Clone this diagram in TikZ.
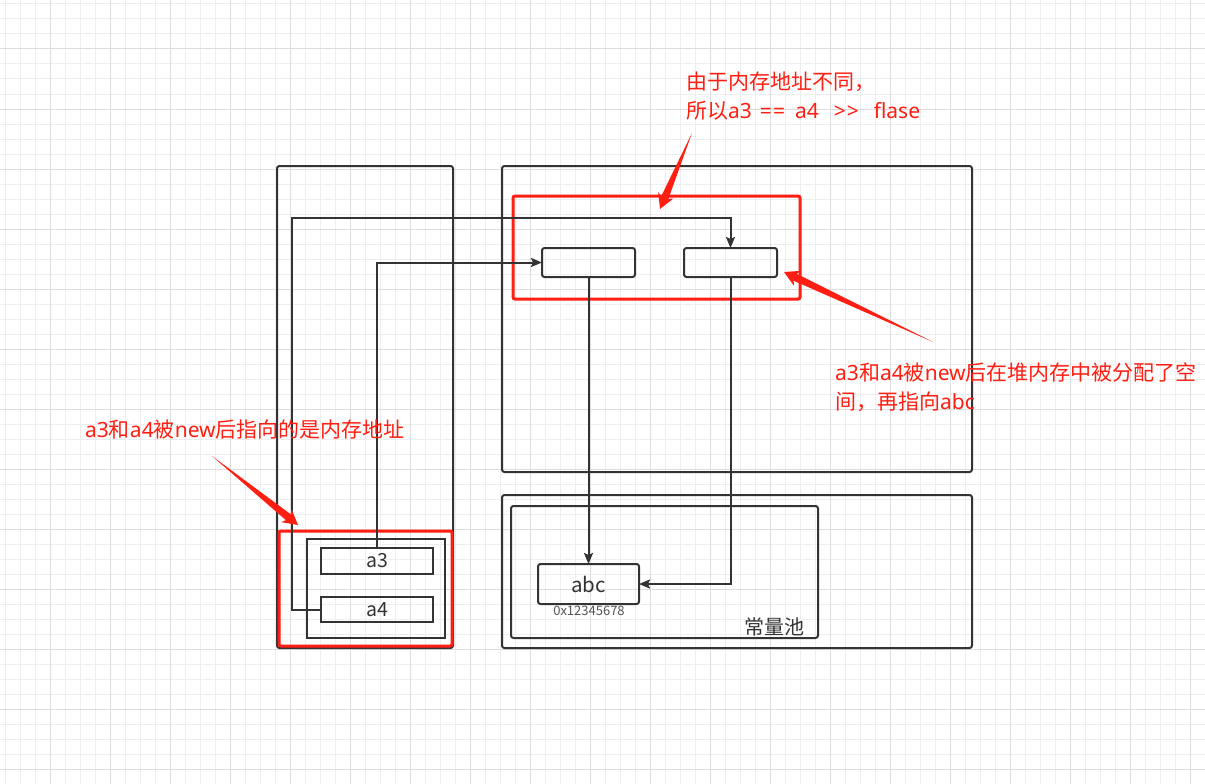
\documentclass[tikz,border=0pt]{standalone}
\usepackage{fontspec}
\newfontfamily\cjk{Noto Sans CJK SC}
\newfontfamily\lat{Noto Sans}
\usetikzlibrary{arrows.meta,calc}
\definecolor{ink}{HTML}{333333}
\definecolor{redc}{HTML}{FF1E12}
\definecolor{gridmin}{HTML}{EEEEEE}
\definecolor{gridmaj}{HTML}{DDDDDD}
\definecolor{addr}{HTML}{555555}
\newcommand\redarrow[2]{%
  \fill[redc] let \p1=(#1), \p2=(#2), \n1={atan2(\y1-\y2,\x1-\x2)} in
    (\p2) -- ($(\p2)+(\n1+29:17pt)$) -- ($(\p2)+(\n1+17:13pt)$) -- (\p1)
    -- ($(\p2)+(\n1-17:13pt)$) -- ($(\p2)+(\n1-29:17pt)$) -- cycle;}
\begin{document}
\begin{tikzpicture}[x=1pt,y=-1pt,
  every node/.style={font=\cjk},
  box/.style={draw=ink,line width=2pt,rounded corners=2.5pt,anchor=north west,inner sep=0pt,outer sep=0pt},
  sqbox/.style={draw=ink,line width=2pt,anchor=north west,inner sep=0pt,outer sep=0pt},
  redbox/.style={draw=redc,line width=3pt,rounded corners=2pt,anchor=north west,inner sep=0pt,outer sep=0pt},
  conn/.style={draw=ink,line width=2pt,-{Stealth[length=11pt,width=9pt,inset=2pt]}},
  lbl/.style={font=\cjk\fontsize{19.5}{22}\selectfont,text=ink},
  note/.style={font=\cjk\fontsize{21}{25}\selectfont,text=redc,anchor=base west,inner sep=0pt}]
\useasboundingbox (0,0) rectangle (1205,784);
\fill[white] (0,0) rectangle (1205,784);
% grid
\foreach \x in {5,20,...,1205} \draw[gridmin,line width=1pt] (\x,0) -- (\x,784);
\foreach \y in {4,19,...,784} \draw[gridmin,line width=1pt] (0,\y) -- (1205,\y);
\foreach \x in {50,110,...,1190} \draw[gridmaj,line width=1pt] (\x,0) -- (\x,784);
\foreach \y in {49,109,...,769} \draw[gridmaj,line width=1pt] (0,\y) -- (1205,\y);
% containers
\node[box,minimum width=176pt,minimum height=482pt] (stack) at (277,166) {};
\node[box,minimum width=470pt,minimum height=306pt] (heap) at (502,166) {};
\node[box,minimum width=470pt,minimum height=153pt] (constouter) at (502,495) {};
\node[box,minimum width=307pt,minimum height=132pt] (pool) at (511,506) {};
\node[lbl,font=\cjk\fontsize{20}{22}\selectfont,anchor=base,inner sep=0pt] (poollbl) at (774.5,634) {常量池};
% heap objects
\node[redbox,minimum width=287pt,minimum height=103pt] (redheap) at (513,196) {};
\node[box,minimum width=93pt,minimum height=29pt] (b1) at (542,248) {};
\node[box,minimum width=93pt,minimum height=29pt] (b2) at (684,248) {};
% constant
\node[box,lbl,font=\cjk\fontsize{20.5}{22}\selectfont,minimum width=101pt,minimum height=40pt] (abc) at (538,564) {abc};
\node[font=\cjk\fontsize{13}{15}\selectfont,text=addr,anchor=base,inner sep=0pt] (addr) at (589,615) {0x12345678};
% stack objects
\node[redbox,minimum width=173pt,minimum height=115pt] (redleft) at (279,531) {};
\node[sqbox,minimum width=138pt,minimum height=99pt] (frame) at (307,539) {};
\node[sqbox,lbl,minimum width=112pt,minimum height=26pt] (a3) at (321,548) {a3};
\node[sqbox,lbl,minimum width=112pt,minimum height=25pt] (a4) at (321,597) {a4};
% connectors
\draw[conn] (a3.north) |- (b1.west);
\draw[conn] (a4.west) -- ([xshift=-29pt]a4.west) |- ([yshift=30pt]b2.north) -- (b2.north);
\draw[conn] (b1.south) -- (abc.north);
\draw[conn] (b2.south) |- (abc.east);
% notes
\node[note] (n1a) at (686,89) {由于内存地址不同，};
\node[note] (n1b) at (686,118) {所以{\lat a3\hspace{8pt}=\hspace{1pt}=\hspace{10pt}a4\hspace{15pt}>\hspace{1pt}>\hspace{15pt}flase}};
\node[note] (n2a) at (835,380) {{\lat a3}和{\lat a4}被{\lat new}后在堆内存中被分配了空};
\node[note] (n2b) at (835,409) {间，再指向{\lat abc}};
\node[note] (n3) at (85,437) {{\lat a3}和{\lat a4}被{\lat new}后指向的是内存地址};
\coordinate (t1) at (692,133); \coordinate (h1) at (660,209);
\coordinate (t2) at (933,342); \coordinate (h2) at (784,272);
\coordinate (t3) at (212,456); \coordinate (h3) at (298,525);
\redarrow{t1}{h1}
\redarrow{t2}{h2}
\redarrow{t3}{h3}
\end{tikzpicture}
\end{document}
